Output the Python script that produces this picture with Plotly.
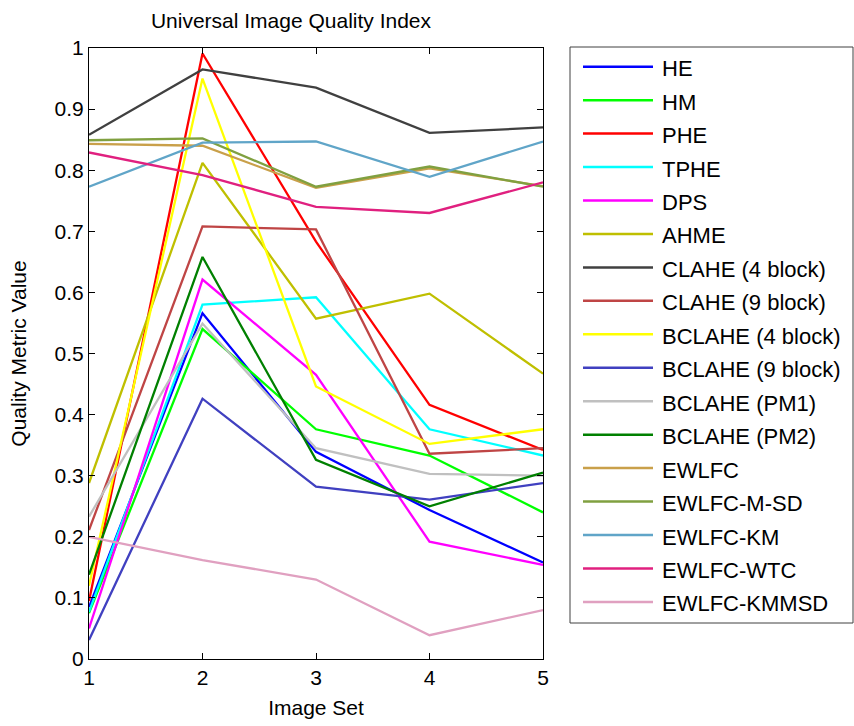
import plotly.graph_objects as go

# Image sets on the x axis
image_set = [1, 2, 3, 4, 5]

# Universal Image Quality Index per method
he = [0.085, 0.566, 0.339, 0.244, 0.158]
hm = [0.075, 0.540, 0.376, 0.333, 0.240]
phe = [0.095, 0.991, 0.683, 0.416, 0.342]
tphe = [0.077, 0.580, 0.592, 0.376, 0.333]
dps = [0.050, 0.621, 0.465, 0.192, 0.154]
ahme = [0.288, 0.812, 0.557, 0.598, 0.467]
clahe_4 = [0.858, 0.965, 0.935, 0.861, 0.870]
clahe_9 = [0.211, 0.708, 0.703, 0.336, 0.345]
bclahe_4 = [0.120, 0.950, 0.446, 0.352, 0.376]
bclahe_9 = [0.031, 0.426, 0.282, 0.261, 0.288]
bclahe_pm1 = [0.233, 0.549, 0.345, 0.303, 0.300]
bclahe_pm2 = [0.138, 0.658, 0.326, 0.250, 0.305]
ewlfc = [0.843, 0.840, 0.771, 0.803, 0.774]
ewlfc_msd = [0.849, 0.852, 0.773, 0.806, 0.773]
ewlfc_km = [0.773, 0.845, 0.847, 0.789, 0.847]
ewlfc_wtc = [0.829, 0.792, 0.740, 0.730, 0.780]
ewlfc_kmmsd = [0.200, 0.162, 0.130, 0.039, 0.080]

method_names = [
    "HE", "HM", "PHE", "TPHE", "DPS", "AHME",
    "CLAHE (4 block)", "CLAHE (9 block)", "BCLAHE (4 block)", "BCLAHE (9 block)",
    "BCLAHE (PM1)", "BCLAHE (PM2)", "EWLFC", "EWLFC-M-SD", "EWLFC-KM",
    "EWLFC-WTC", "EWLFC-KMMSD",
]
method_values = [
    he, hm, phe, tphe, dps, ahme, clahe_4, clahe_9, bclahe_4, bclahe_9,
    bclahe_pm1, bclahe_pm2, ewlfc, ewlfc_msd, ewlfc_km, ewlfc_wtc, ewlfc_kmmsd,
]
method_colors = [
    "#0000FF", "#00FF00", "#FF0000", "#00FFFF", "#FF00FF", "#BFBF00",
    "#404040", "#BF4545", "#FFFF00", "#4040C0", "#C0C0C0", "#008000",
    "#C9A04A", "#80A040", "#60A5C8", "#E0207F", "#E0A0C0",
]

FONT = "Liberation Sans, Arial, sans-serif"
W, H = 854, 726
# plot-area edges in pixels
L, R, T, B = 89, 543, 48, 659


def px_x(px):
    return (px - L) / (R - L)


def px_y(py):
    return (B - py) / (B - T)


fig = go.Figure()
for name, vals, col in zip(method_names, method_values, method_colors):
    fig.add_trace(go.Scatter(
        x=image_set, y=vals, mode="lines", name=name,
        line=dict(color=col, width=2.3), showlegend=False,
    ))

# Boxed legend on the right
shapes = [dict(type="rect", xref="paper", yref="paper",
               x0=px_x(570), x1=px_x(853), y0=px_y(623), y1=px_y(47),
               line=dict(color="#404040", width=1), fillcolor="white",
               layer="below")]
annotations = []
for i, (name, col) in enumerate(zip(method_names, method_colors)):
    yy = 66.7 + i * 33.45
    shapes.append(dict(type="line", xref="paper", yref="paper",
                       x0=px_x(583), x1=px_x(653), y0=px_y(yy), y1=px_y(yy),
                       line=dict(color=col, width=2.5)))
    annotations.append(dict(xref="paper", yref="paper", x=px_x(660), y=px_y(yy + 2),
                            text=name, showarrow=False, xanchor="left", yanchor="middle",
                            font=dict(family=FONT, size=22, color="black")))

fig.update_layout(
    width=W, height=H,
    margin=dict(l=L, r=W - R, t=T, b=H - B),
    paper_bgcolor="white", plot_bgcolor="white",
    font=dict(family=FONT, size=20, color="black"),
    title=dict(text="Universal Image Quality Index", x=291 / W, xanchor="center",
               y=1 - 21 / H, yanchor="middle", xref="container",
               font=dict(family=FONT, size=21, color="black")),
    shapes=shapes, annotations=annotations,
    showlegend=False,
)
fig.update_xaxes(
    range=[1, 5], tickvals=image_set, ticktext=[str(v) for v in image_set],
    ticks="inside", ticklen=6, tickcolor="black", mirror="ticks",
    showline=True, linecolor="black", linewidth=1, showgrid=False, zeroline=False,
    automargin=False,
    tickfont=dict(family=FONT, size=21, color="black"),
    title=dict(text="Image Set", font=dict(family=FONT, size=21, color="black"), standoff=12),
)
fig.update_yaxes(
    range=[0, 1], tickvals=[i / 10 for i in range(11)],
    ticktext=["0", "0.1", "0.2", "0.3", "0.4", "0.5", "0.6", "0.7", "0.8", "0.9", "1"],
    ticks="inside", ticklen=6, tickcolor="black", mirror="ticks",
    showline=True, linecolor="black", linewidth=1, showgrid=False, zeroline=False,
    automargin=False,
    tickfont=dict(family=FONT, size=21, color="black"),
    title=dict(text="Quality Metric Value", font=dict(family=FONT, size=21, color="black"), standoff=22),
)

fig.write_html("out.html")
